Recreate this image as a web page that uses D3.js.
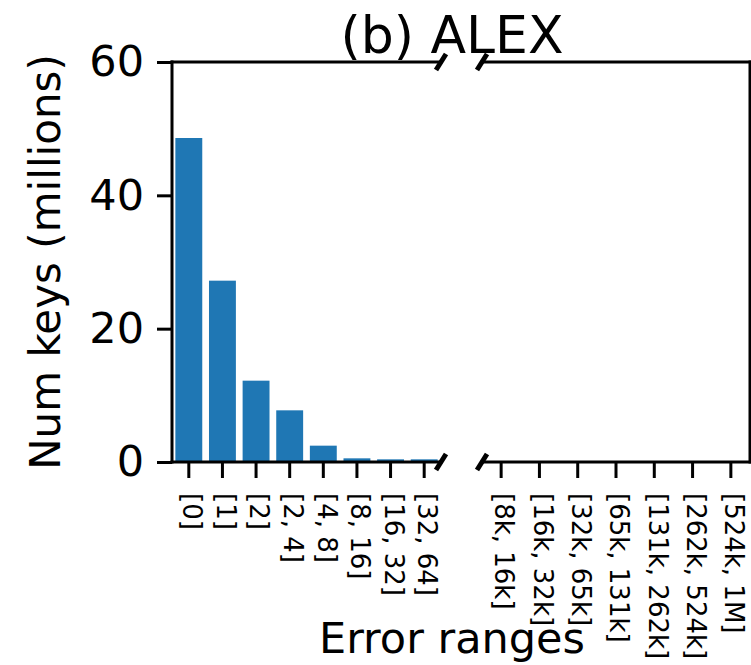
<!DOCTYPE html>
<html>
<head>
<meta charset="utf-8">
<script src="https://cdnjs.cloudflare.com/ajax/libs/d3/7.8.5/d3.min.js"></script>
<style>
body { margin: 0; background: #fff; }
svg text { font-family: "DejaVu Sans", sans-serif; fill: #000; }
</style>
</head>
<body>
<div id="chart"></div>
<script>
// error ranges below the break, and their key counts (millions)
var lowRanges = ["[0]", "[1]", "[2]", "[2, 4]", "[4, 8]", "[8, 16]", "[16, 32]", "[32, 64]"];
var lowCounts = [48.6, 27.2, 12.2, 7.75, 2.45, 0.55, 0.4, 0.4];
// error ranges after the break
var highRanges = ["[8k, 16k]", "[16k, 32k]", "[32k, 65k]", "[65k, 131k]", "[131k, 262k]", "[262k, 524k]", "[524k, 1M]"];
var highCounts = [0, 0, 0, 0, 0, 0, 0];
var yTicks = [0, 20, 40, 60];
var yMax = 60;

var width = 751, height = 665;
var top_y = 62, bottom_y = 462;
var lowLeft = 172, lowRight = 441;
var highLeft = 482, highRight = 750;
var barColor = "#1f77b4";
var lw = 3;

var svg = d3.select("#chart")
    .append("svg")
    .attr("width", width)
    .attr("height", height);

var y = d3.scaleLinear()
    .domain([0, yMax])
    .range([bottom_y, top_y]);

var xLow = d3.scaleBand()
    .domain(lowRanges)
    .range([lowLeft, lowRight])
    .paddingInner(0.2)
    .paddingOuter(0.1);

var xHigh = d3.scaleBand()
    .domain(highRanges)
    .range([highLeft, highRight])
    .paddingInner(0.2)
    .paddingOuter(0.1);

// bars
function draw_bars(scale, cats, vals) {
    svg.append("g").selectAll("rect")
        .data(cats)
        .enter().append("rect")
        .attr("x", function(d) { return scale(d); })
        .attr("width", scale.bandwidth())
        .attr("y", function(d, i) { return y(vals[i]); })
        .attr("height", function(d, i) { return y(0) - y(vals[i]); })
        .attr("fill", barColor);
}
draw_bars(xLow, lowRanges, lowCounts);
draw_bars(xHigh, highRanges, highCounts);

// x axes, labels rotated to read downwards
function draw_xaxis(scale) {
    var g = svg.append("g")
        .attr("transform", "translate(0," + bottom_y + ")")
        .call(d3.axisBottom(scale).tickSize(16).tickSizeOuter(0));
    g.select(".domain").remove();
    g.selectAll("line").attr("stroke", "#000").attr("stroke-width", lw);
    g.selectAll("text")
        .attr("font-size", 26)
        .attr("font-family", "DejaVu Sans")
        .attr("y", 0)
        .attr("x", 31)
        .attr("dy", "0.22em")
        .attr("transform", "rotate(90)")
        .style("text-anchor", "start");
}
draw_xaxis(xLow);
draw_xaxis(xHigh);

// y axis
var gy = svg.append("g")
    .attr("transform", "translate(" + lowLeft + ",0)")
    .call(d3.axisLeft(y).tickValues(yTicks).tickSize(15).tickPadding(13));
gy.select(".domain").remove();
gy.selectAll("line").attr("stroke", "#000").attr("stroke-width", lw);
gy.selectAll("text")
    .attr("font-size", 43)
    .attr("font-family", "DejaVu Sans");

// spines
var spines = [
    [lowLeft, top_y, lowLeft, bottom_y],
    [lowLeft, top_y, lowRight, top_y],
    [lowLeft, bottom_y, lowRight, bottom_y],
    [highLeft, top_y, highRight, top_y],
    [highLeft, bottom_y, highRight, bottom_y],
    [highRight, top_y, highRight, bottom_y]
];
svg.append("g").selectAll("line")
    .data(spines)
    .enter().append("line")
    .attr("x1", function(d) { return d[0]; })
    .attr("y1", function(d) { return d[1]; })
    .attr("x2", function(d) { return d[2]; })
    .attr("y2", function(d) { return d[3]; })
    .attr("stroke", "#000")
    .attr("stroke-width", lw)
    .attr("stroke-linecap", "square");

// break marks
var bdx = 5, bdy = 8;
var breaks = [[lowRight, top_y], [lowRight, bottom_y], [highLeft, top_y], [highLeft, bottom_y]];
svg.append("g").selectAll("line")
    .data(breaks)
    .enter().append("line")
    .attr("x1", function(d) { return d[0] - bdx; })
    .attr("y1", function(d) { return d[1] + bdy; })
    .attr("x2", function(d) { return d[0] + bdx; })
    .attr("y2", function(d) { return d[1] - bdy; })
    .attr("stroke", "#000")
    .attr("stroke-width", 5);

// titles
svg.append("text")
    .attr("x", 452)
    .attr("y", 53)
    .attr("text-anchor", "middle")
    .attr("font-size", 52)
    .text("(b) ALEX");

svg.append("text")
    .attr("x", 452)
    .attr("y", 653)
    .attr("text-anchor", "middle")
    .attr("font-size", 43)
    .text("Error ranges");

svg.append("text")
    .attr("transform", "translate(60," + ((top_y + bottom_y) / 2) + ")rotate(-90)")
    .attr("text-anchor", "middle")
    .attr("font-size", 42)
    .text("Num keys (millions)");
</script>
</body>
</html>
